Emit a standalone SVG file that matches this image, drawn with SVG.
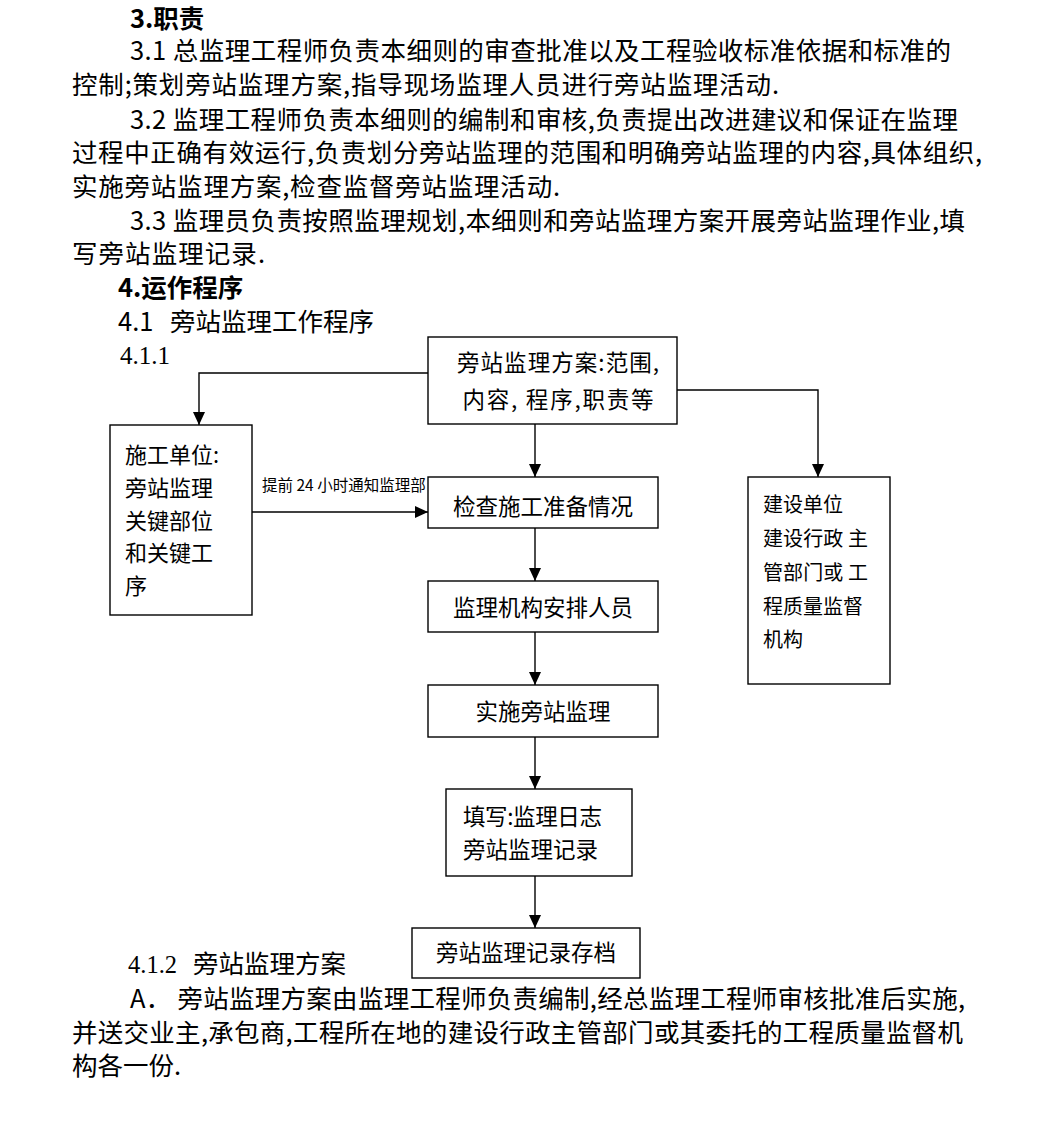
<svg xmlns="http://www.w3.org/2000/svg" width="1038" height="1124" viewBox="0 0 1038 1124">
<style>
text{font-family:"Noto Sans CJK SC","Noto Sans",sans-serif;fill:#000}
.b{font-size:25.5px}
.h{font-size:25.5px;font-weight:bold}
.s{font-family:"Liberation Serif","Noto Sans CJK SC",serif}
.n{font-size:22.5px}
.l{font-size:22px}
.r{font-size:20px}
.lab{font-size:15.5px}
.box{fill:#fff;stroke:#000;stroke-width:1.4}
.c{fill:none;stroke:#000;stroke-width:1.4}
</style>
<defs>
<marker id="ah" markerUnits="userSpaceOnUse" markerWidth="14" markerHeight="12" refX="13" refY="6" orient="auto" viewBox="0 0 14 12">
<path d="M0,0 L13,6 L0,12 Z" fill="#000"/>
</marker>
</defs>
<rect width="1038" height="1124" fill="#fff"/>

<g id="body-text">
<text class="h" x="130" y="28">3.职责</text>
<text class="b" x="130" y="60" textLength="821" lengthAdjust="spacing">3.1 总监理工程师负责本细则的审查批准以及工程验收标准依据和标准的</text>
<text class="b" x="72" y="94" textLength="707" lengthAdjust="spacing">控制;策划旁站监理方案,指导现场监理人员进行旁站监理活动.</text>
<text class="b" x="130" y="129" textLength="828" lengthAdjust="spacing">3.2 监理工程师负责本细则的编制和审核,负责提出改进建议和保证在监理</text>
<text class="b" x="72" y="162" textLength="910" lengthAdjust="spacing">过程中正确有效运行,负责划分旁站监理的范围和明确旁站监理的内容,具体组织,</text>
<text class="b" x="72" y="196" textLength="488" lengthAdjust="spacing">实施旁站监理方案,检查监督旁站监理活动.</text>
<text class="b" x="130" y="230" textLength="835" lengthAdjust="spacing">3.3 监理员负责按照监理规划,本细则和旁站监理方案开展旁站监理作业,填</text>
<text class="b" x="72" y="263" textLength="193" lengthAdjust="spacing">写旁站监理记录.</text>
<text class="h" x="118" y="297">4.运作程序</text>
<text class="b" x="118" y="331"><tspan>4.1 </tspan><tspan x="170">旁站监理工作程序</tspan></text>
<text class="s" x="120" y="364" font-size="25">4.1.1</text>
<text class="b" x="128" y="973"><tspan class="s" font-size="24.5">4.1.2 </tspan><tspan x="193">旁站监理方案</tspan></text>
<text class="b" x="130" y="1008" textLength="835" lengthAdjust="spacing">A． 旁站监理方案由监理工程师负责编制,经总监理工程师审核批准后实施,</text>
<text class="b" x="72" y="1042" textLength="891" lengthAdjust="spacing">并送交业主,承包商,工程所在地的建设行政主管部门或其委托的工程质量监督机</text>
<text class="b" x="72" y="1075">构各一份.</text>
</g>

<g id="connectors">
<path class="c" d="M428,373 H199 V425" marker-end="url(#ah)"/>
<path class="c" d="M677,390 H818 V477" marker-end="url(#ah)"/>
<path class="c" d="M252,512 H428" marker-end="url(#ah)"/>
<path class="c" d="M535,424 V477" marker-end="url(#ah)"/>
<path class="c" d="M535,528 V581" marker-end="url(#ah)"/>
<path class="c" d="M535,632 V685" marker-end="url(#ah)"/>
<path class="c" d="M535,737 V789" marker-end="url(#ah)"/>
<path class="c" d="M535,876 V928" marker-end="url(#ah)"/>
<text class="lab" x="262" y="491">提前 24 小时通知监理部</text>
</g>

<g id="plan">
<rect class="box" x="428" y="337" width="249" height="87"/>
<text class="n" x="558" y="371" text-anchor="middle" textLength="202" lengthAdjust="spacing">旁站监理方案:范围,</text>
<text class="n" x="558" y="408" text-anchor="middle" textLength="191" lengthAdjust="spacing">内容, 程序,职责等</text>
</g>

<g id="contractor">
<rect class="box" x="110" y="425" width="142" height="190"/>
<text class="l" x="125" y="463">施工单位:</text>
<text class="l" x="125" y="496">旁站监理</text>
<text class="l" x="125" y="529">关键部位</text>
<text class="l" x="125" y="561">和关键工</text>
<text class="l" x="125" y="594">序</text>
</g>

<g id="check">
<rect class="box" x="428" y="477" width="230" height="51"/>
<text class="n" x="543" y="515" text-anchor="middle">检查施工准备情况</text>
</g>

<g id="owner">
<rect class="box" x="748" y="477" width="142" height="207"/>
<text class="r" x="763" y="512">建设单位</text>
<text class="r" x="763" y="546" textLength="105" lengthAdjust="spacing">建设行政 主</text>
<text class="r" x="763" y="580" textLength="105" lengthAdjust="spacing">管部门或 工</text>
<text class="r" x="763" y="614">程质量监督</text>
<text class="r" x="763" y="647">机构</text>
</g>

<g id="arrange">
<rect class="box" x="428" y="581" width="230" height="51"/>
<text class="n" x="543" y="616" text-anchor="middle">监理机构安排人员</text>
</g>

<g id="implement">
<rect class="box" x="428" y="685" width="230" height="52"/>
<text class="n" x="543" y="720" text-anchor="middle">实施旁站监理</text>
</g>

<g id="fill">
<rect class="box" x="446" y="789" width="186" height="87"/>
<text class="n" x="463" y="825" textLength="139" lengthAdjust="spacing">填写:监理日志</text>
<text class="n" x="463" y="858">旁站监理记录</text>
</g>

<g id="archive">
<rect class="box" x="412" y="928" width="228" height="50"/>
<text class="n" x="526" y="961" text-anchor="middle">旁站监理记录存档</text>
</g>
</svg>
